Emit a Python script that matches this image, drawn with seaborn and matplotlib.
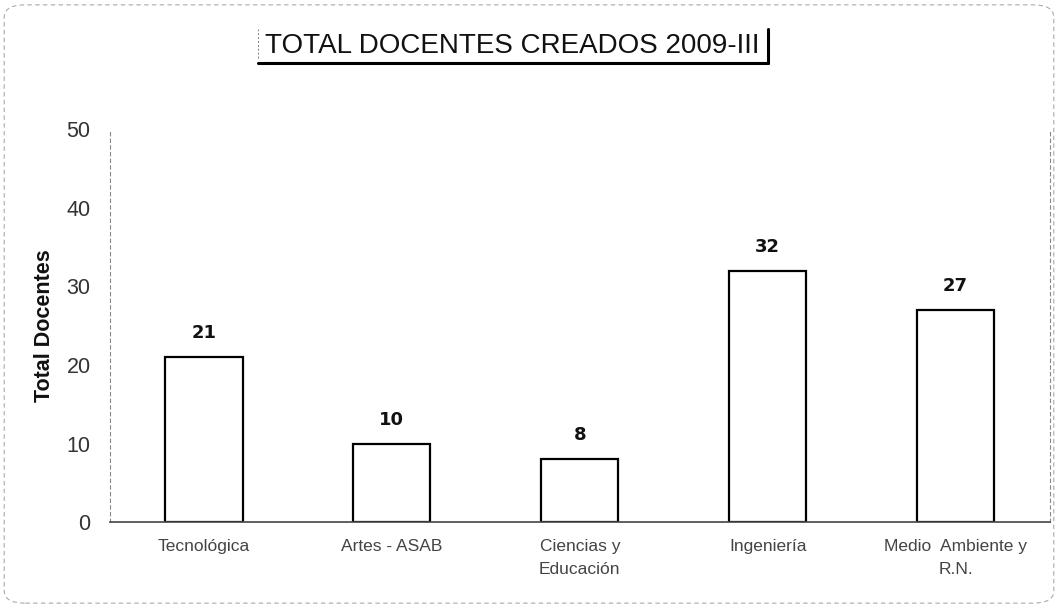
import matplotlib
matplotlib.use("Agg")
import matplotlib.pyplot as plt
import seaborn as sns
import pandas as pd
from matplotlib.patches import FancyBboxPatch

categories = ["Tecnológica", "Artes - ASAB", "Ciencias y\nEducación", "Ingeniería", "Medio  Ambiente y\nR.N."]
values = [21, 10, 8, 32, 27]
yticks = [0, 10, 20, 30, 40, 50]

sns.set_theme(style="white")
plt.rcParams['font.family'] = ['Liberation Sans', 'DejaVu Sans']

df = pd.DataFrame({"cat": categories, "val": values})

fig = plt.figure(figsize=(10.58, 6.08), dpi=100)
ax = fig.add_axes([0.104, 0.141, 0.888, 0.647])

sns.barplot(data=df, x="cat", y="val", ax=ax, color="white", edgecolor="black",
            linewidth=1.6, width=0.41, saturation=1)

ax.set_ylim(0, 50)
ax.set_yticks(yticks)
ax.set_xlim(-0.5, len(categories) - 0.5)
ax.tick_params(axis='y', labelsize=15.5, colors="#333333", length=0, pad=14)
ax.tick_params(axis='x', labelsize=12.5, colors="#444444", length=0, pad=12)
for lab in ax.get_xticklabels():
    lab.set_linespacing(1.7)
ax.set_xlabel("")
ax.set_ylabel("Total Docentes", fontsize=15.5, fontweight="bold", labelpad=8, color="#111111")

for i, v in enumerate(values):
    ax.text(i, v + 1.9, str(v), ha="center", va="bottom", fontsize=13,
            fontweight="bold", family="DejaVu Sans", color="#111111")

ax.spines["top"].set_visible(False)
for s in ["left", "right"]:
    ax.spines[s].set_linestyle((0, (3, 3)))
    ax.spines[s].set_color("#888888")
    ax.spines[s].set_linewidth(0.8)
ax.spines["bottom"].set_color("#444444")
ax.spines["bottom"].set_linewidth(1.2)

fig.text(0.484, 0.925, "TOTAL DOCENTES CREADOS 2009-III", ha="center", va="center",
         fontsize=20, color="#111111")
# shadow-like border on right and bottom of title
fig.add_artist(plt.Line2D([0.244, 0.726], [0.896, 0.896], color="black", lw=2.2))
fig.add_artist(plt.Line2D([0.726, 0.726], [0.896, 0.952], color="black", lw=2.2))
fig.add_artist(plt.Line2D([0.244, 0.244], [0.905, 0.952], color="#777777", lw=0.7, ls=(0, (2, 2))))

# outer light frame
frame = FancyBboxPatch((0.004, 0.008), 0.992, 0.984, boxstyle="round,pad=0,rounding_size=0.02",
                       transform=fig.transFigure, facecolor="none", edgecolor="#aaaaaa",
                       lw=0.8, ls=(0, (4, 3)))
fig.add_artist(frame)

fig.savefig("out.png", dpi=100)
